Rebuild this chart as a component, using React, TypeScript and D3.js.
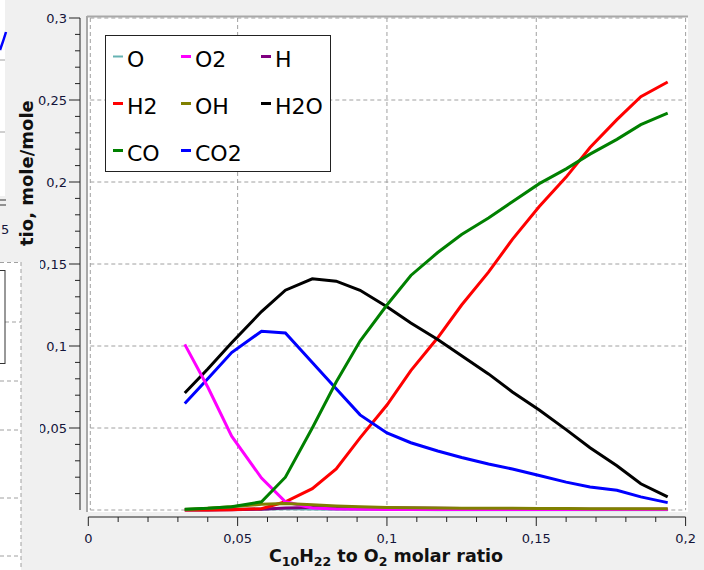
import React from "react";
import * as d3 from "d3";

// C10H22 / O2 molar ratio at each computed point
const ratios = [0.0323, 0.040, 0.048, 0.058, 0.066, 0.075, 0.083, 0.091, 0.100, 0.108, 0.117, 0.125, 0.134, 0.142, 0.151, 0.160, 0.168, 0.177, 0.185, 0.194];

const O = [0.0001, 0.0002, 0.0004, 0.0006, 0.0007, 0.0006, 0.0005, 0.0004, 0.0003, 0.0003, 0.0002, 0.0002, 0.0002, 0.0002, 0.0002, 0.0002, 0.0002, 0.0002, 0.0002, 0.0002];
const O2 = [0.101, 0.075, 0.045, 0.0195, 0.005, 0.0012, 0.0006, 0.0004, 0.0003, 0.0003, 0.0003, 0.0003, 0.0003, 0.0003, 0.0003, 0.0003, 0.0003, 0.0003, 0.0003, 0.0003];
const H = [0, 0, 0.0001, 0.0005, 0.0012, 0.0016, 0.0017, 0.0016, 0.0014, 0.0012, 0.001, 0.0009, 0.0008, 0.0007, 0.0006, 0.0006, 0.0005, 0.0005, 0.0005, 0.0005];
const H2 = [0, 0, 0.0002, 0.0008, 0.005, 0.013, 0.025, 0.044, 0.064, 0.085, 0.105, 0.125, 0.145, 0.165, 0.185, 0.203, 0.221, 0.238, 0.252, 0.261];
const OH = [0.0003, 0.001, 0.002, 0.0035, 0.004, 0.0032, 0.0025, 0.002, 0.0016, 0.0014, 0.0012, 0.0011, 0.001, 0.001, 0.0009, 0.0009, 0.0008, 0.0008, 0.0008, 0.0008];
const H2O = [0.0713, 0.086, 0.102, 0.121, 0.134, 0.141, 0.1395, 0.134, 0.124, 0.114, 0.104, 0.094, 0.083, 0.072, 0.061, 0.049, 0.038, 0.027, 0.016, 0.008];
const CO = [0.0005, 0.001, 0.002, 0.005, 0.02, 0.05, 0.078, 0.103, 0.125, 0.143, 0.157, 0.168, 0.178, 0.188, 0.199, 0.208, 0.217, 0.226, 0.235, 0.242];
const CO2 = [0.065, 0.08, 0.096, 0.109, 0.108, 0.09, 0.074, 0.058, 0.047, 0.041, 0.036, 0.032, 0.028, 0.025, 0.021, 0.017, 0.014, 0.012, 0.008, 0.0045];

const xTickLabels = ["0", "0,05", "0,1", "0,15", "0,2"];
const yTickLabels = ["0,05", "0,1", "0,15", "0,2", "0,25", "0,3"];

const series = [
  { name: "O", values: O, color: "#66b3b3" },
  { name: "O2", values: O2, color: "#ff00ff" },
  { name: "H", values: H, color: "#800080" },
  { name: "H2", values: H2, color: "#ff0000" },
  { name: "OH", values: OH, color: "#808000" },
  { name: "H2O", values: H2O, color: "#000000" },
  { name: "CO", values: CO, color: "#008000" },
  { name: "CO2", values: CO2, color: "#0000ff" },
];
const drawOrder = ["O", "H", "H2", "H2O", "CO2", "O2", "OH", "CO"];

const W = 704;
const H_ = 570;
const font = "'DejaVu Sans', Verdana, sans-serif";
const labelColor = "#14143a";
const gridColor = "#a0a0a0";

export default function App() {
  const x = d3.scaleLinear().domain([0, 0.2]).range([88.3, 685.6]);
  const y = d3.scaleLinear().domain([0, 0.3]).range([510, 18]);

  const line = d3
    .line<number>()
    .x((_, i) => x(ratios[i]))
    .y((d) => y(d));

  const majorX = d3.range(0, 5).map((i) => i * 0.05);
  const minorX = d3.range(0, 21).map((i) => i * 0.01);
  const majorY = d3.range(1, 7).map((i) => i * 0.05);
  const minorY = d3.range(1, 31).map((i) => i * 0.01);

  const legendCols = [113, 181, 261];
  const legendRows = [66, 113, 160];

  return (
    <svg width={W} height={H_} style={{ position: "absolute", left: 0, top: 0, display: "block" }}>
      <rect width={W} height={H_} fill="#f0f0f0" />

      {/* window fragment top-left */}
      <rect x={0} y={0} width={5} height={196} fill="#ffffff" />
      <line x1={0} x2={5} y1={60} y2={60} stroke="#a0a0a0" />
      <line x1={0} x2={5} y1={132} y2={132} stroke="#a0a0a0" />
      <path d="M0,50 Q3,42 6,32" fill="none" stroke="#0000ff" strokeWidth={2.5} />
      <line x1={0} x2={6} y1={200} y2={200} stroke="#333" />
      <line x1={0} x2={6} y1={205} y2={205} stroke="#333" />
      <text x={1} y={234} fontSize={13} fontFamily={font} fill={labelColor}>5</text>

      {/* plot area */}
      <rect x={88} y={17} width={600} height={495} fill="#ffffff" />
      <line x1={87} x2={688} y1={16.5} y2={16.5} stroke="#a8a8a8" strokeWidth={2} />
      <line x1={87} x2={87} y1={16} y2={512} stroke="#a8a8a8" strokeWidth={2} />

      {majorX.map((v) => (
        <line key={"gx" + v} x1={x(v) + (v === 0 ? 2 : 0)} x2={x(v) + (v === 0 ? 2 : 0)} y1={y(0.3)} y2={y(0)} stroke={gridColor} strokeDasharray="4,3" />
      ))}
      {[0, ...majorY].map((v) => (
        <line key={"gy" + v} x1={x(0) + 2} x2={x(0.2)} y1={y(v) + (v === 0.3 ? 1 : 0)} y2={y(v) + (v === 0.3 ? 1 : 0)} stroke={gridColor} strokeDasharray="4,3" />
      ))}

      {/* series */}
      {drawOrder.map((n) => {
        const s = series.find((d) => d.name === n)!;
        return <path key={n} d={line(s.values) || ""} fill="none" stroke={s.color} strokeWidth={3} />;
      })}

      {/* legend */}
      <rect x={105.5} y={35.5} width={225} height={136} fill="#ffffff" stroke="#222" strokeWidth={1} />
      {series.map((s, i) => {
        const cx = legendCols[i % 3];
        const by = legendRows[Math.floor(i / 3)];
        return (
          <g key={"lg" + s.name}>
            <line x1={cx} x2={cx + 10} y1={by - 9.5} y2={by - 9.5} stroke={s.color} strokeWidth={s.name === "O" ? 2 : 3} />
            <text x={cx + 14} y={by + 0.5} fontSize={22} fontFamily={font} fill="#000">{s.name}</text>
          </g>
        );
      })}

      {/* y axis */}
      <line x1={80} x2={80} y1={y(0.3)} y2={y(0)} stroke="#222" />
      {minorY.map((v, i) => (
        <line key={"my" + i} x1={(i + 1) % 5 === 0 ? 69 : 75} x2={80} y1={y(v)} y2={y(v)} stroke="#222" />
      ))}
      {majorY.map((v, i) => (
        <text key={"yl" + i} x={67} y={y(v)} dy="0.35em" textAnchor="end" fontSize={13} fontFamily={font} fill={labelColor}>
          {yTickLabels[i]}
        </text>
      ))}

      {/* x axis */}
      <line x1={x(0)} x2={x(0.2)} y1={517} y2={517} stroke="#222" />
      {minorX.map((v, i) => (
        <line key={"mx" + i} x1={x(v)} x2={x(v)} y1={517} y2={i % 5 === 0 ? 526 : 522} stroke="#222" />
      ))}
      {majorX.map((v, i) => (
        <text key={"xl" + i} x={x(v)} y={543} textAnchor="middle" fontSize={13} fontFamily={font} fill={labelColor}>
          {xTickLabels[i]}
        </text>
      ))}

      <text x={386} y={562} textAnchor="middle" fontSize={17.5} fontWeight="bold" fontFamily={font} fill="#111">
        C<tspan fontSize={12.5} dy={4}>10</tspan>
        <tspan dy={-4}>H</tspan>
        <tspan fontSize={12.5} dy={4}>22</tspan>
        <tspan dy={-4}> to O</tspan>
        <tspan fontSize={12.5} dy={4}>2</tspan>
        <tspan dy={-4}> molar ratio</tspan>
      </text>

      <text transform="translate(33,246) rotate(-90)" fontSize={18} fontWeight="bold" fontFamily={font} fill="#111">
        tio, mole/mole
      </text>

      {/* overlapping window at lower left */}
      <rect x={0} y={250} width={40} height={320} fill="#f0f0f0" />
      <rect x={0} y={262} width={21} height={308} fill="#ffffff" />
      <line x1={0} x2={21} y1={262.5} y2={262.5} stroke={gridColor} strokeDasharray="4,3" />
      <line x1={21} x2={21} y1={262} y2={570} stroke={gridColor} strokeDasharray="4,3" />
      {[322, 381, 430, 498, 556].map((gy) => (
        <line key={"lw" + gy} x1={gy === 322 ? 5 : 0} x2={21} y1={gy} y2={gy} stroke={gridColor} strokeDasharray="4,3" />
      ))}
      <rect x={-10} y={270.5} width={15} height={93} fill="#ffffff" stroke="#333" />
    </svg>
  );
}
